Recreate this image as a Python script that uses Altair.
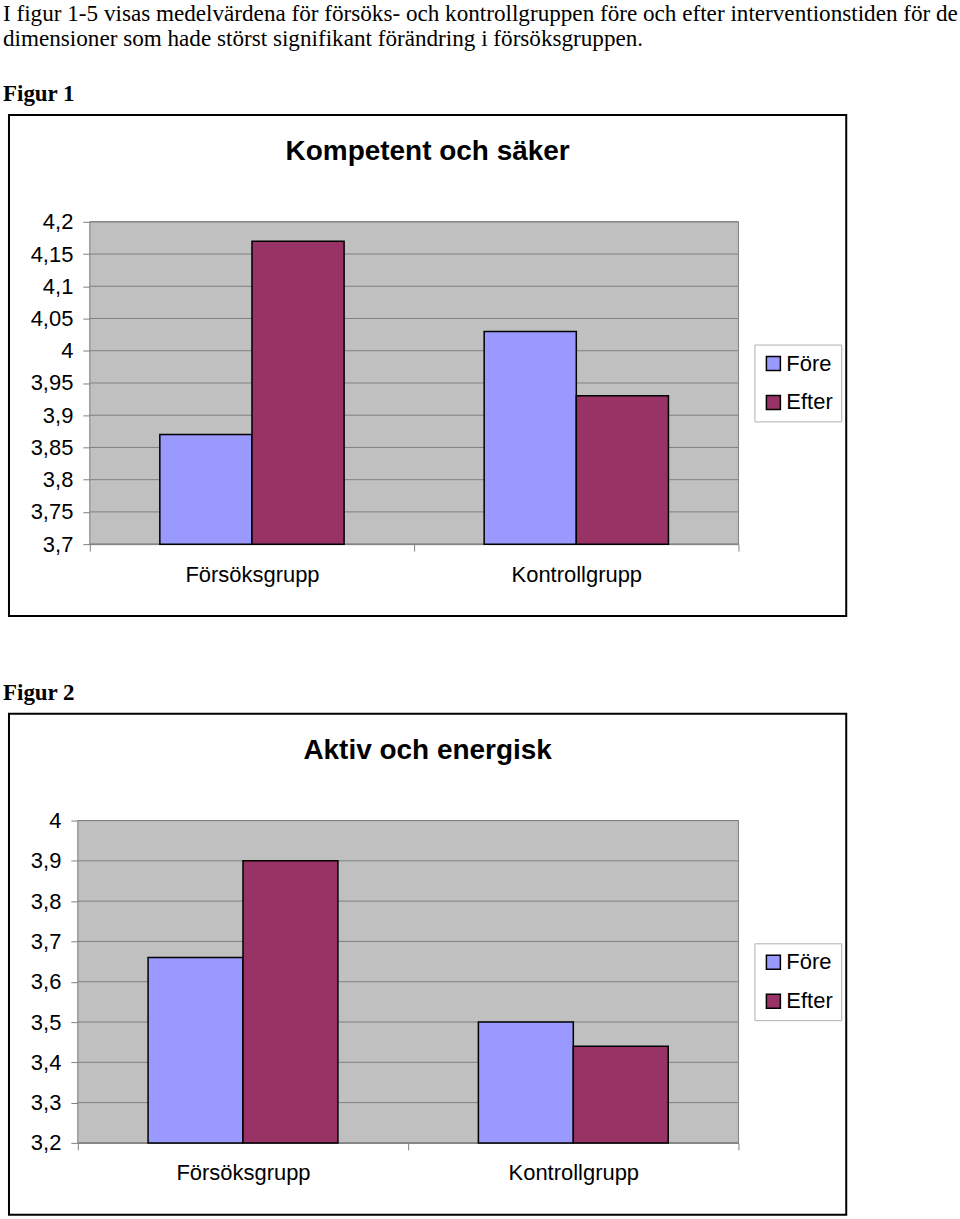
import altair as alt
import pandas as pd

# ---- data ----
groups = ["Försöksgrupp", "Kontrollgrupp"]
periods = ["Före", "Efter"]
fig1_title = "Kompetent och säker"
fig1_fore = [3.87, 4.03]
fig1_efter = [4.17, 3.93]
fig1_ticks = [3.7, 3.75, 3.8, 3.85, 3.9, 3.95, 4.0, 4.05, 4.1, 4.15, 4.2]

fig2_title = "Aktiv och energisk"
fig2_fore = [3.66, 3.50]
fig2_efter = [3.90, 3.44]
fig2_ticks = [3.2, 3.3, 3.4, 3.5, 3.6, 3.7, 3.8, 3.9, 4.0]

intro_1 = "I figur 1-5 visas medelvärdena för försöks- och kontrollgruppen före och efter interventionstiden för de"
intro_2 = "dimensioner som hade störst signifikant förändring i försöksgruppen."
label_1 = "Figur 1"
label_2 = "Figur 2"

colors = ["#9999FF", "#993366"]
SANS = "Liberation Sans"
SERIF = "Liberation Serif"
GRAY = "#808080"


def make_df(fore, efter):
    rows = []
    for g, f, e in zip(groups, fore, efter):
        rows.append({"group": g, "period": "Före", "value": f})
        rows.append({"group": g, "period": "Efter", "value": e})
    return pd.DataFrame(rows)


def text_layer(txt, x, y, size, font, weight="normal", align="left"):
    return alt.Chart(pd.DataFrame({"t": [txt]})).mark_text(
        align=align, baseline="alphabetic", font=font, fontSize=size,
        fontWeight=weight, color="black"
    ).encode(text="t:N", x=alt.value(x), y=alt.value(y))


def rect_layer(x, x2, y, y2, **kw):
    return alt.Chart(pd.DataFrame({"a": [0]})).mark_rect(**kw).encode(
        x=alt.value(x), x2=alt.value(x2), y=alt.value(y), y2=alt.value(y2)
    )


def figure(fore, efter, ticks, lo, hi, view_h, px0, px1, py0, py1,
           title, label, pad_outer, extra_text=None):
    # px0..px1 / py0..py1: plot rectangle inside this view
    df = make_df(fore, efter)
    yenc = alt.Y("value:Q", title=None,
                 scale=alt.Scale(domain=[lo, hi], zero=False, nice=False,
                                 range=[py1, py0]),
                 axis=alt.Axis(values=ticks, grid=False, offset=-px0,
                               labelExpr="replace(format(datum.value, '~g'), '.', ',')",
                               labelFontSize=22, labelFont=SANS, labelColor="black",
                               tickColor=GRAY, domainColor=GRAY,
                               tickSize=7, labelPadding=10))
    bars = alt.Chart(df).mark_bar(stroke="black", strokeWidth=1.5).encode(
        x=alt.X("group:N", sort=groups, title=None,
                scale=alt.Scale(paddingInner=0, paddingOuter=0, range=[px0, px1]),
                axis=alt.Axis(labelAngle=0, tickBand="extent", grid=False,
                              offset=-(view_h - py1),
                              labelFontSize=22, labelFont=SANS, labelColor="black",
                              tickColor=GRAY, domainColor=GRAY,
                              tickSize=7, labelPadding=13)),
        xOffset=alt.XOffset("period:N", sort=periods,
                            scale=alt.Scale(paddingInner=0, paddingOuter=pad_outer)),
        y=yenc,
        y2=alt.datum(lo),
        color=alt.Color("period:N", sort=periods,
                        scale=alt.Scale(domain=periods, range=colors),
                        legend=alt.Legend(orient="none", legendX=755, legendY=py0 + 123,
                                          title=None, symbolType="square",
                                          symbolSize=196, symbolStrokeColor="black",
                                          symbolStrokeWidth=1.5, labelFontSize=22,
                                          labelFont=SANS, labelColor="black",
                                          labelOffset=2, rowPadding=17, padding=8,
                                          strokeColor="#b0b0b0", fillColor="white",
                                          symbolOpacity=1)),
    )
    grid = alt.Chart(pd.DataFrame({"value": ticks})).mark_rule(
        color=GRAY, strokeWidth=1
    ).encode(y=yenc, x=alt.value(px0), x2=alt.value(px1))

    layers = [
        rect_layer(0, 960, 0, view_h, opacity=0),
        rect_layer(8, 847, py0 - 107, py0 + 395, fillOpacity=0,
                   stroke="black", strokeWidth=2),
        rect_layer(px0, px1, py0, py1, fill="#c0c0c0", stroke=GRAY, strokeWidth=1),
        grid,
        bars,
        text_layer(title, 427.5, py0 - 62, 28, SANS, weight="bold", align="center"),
        text_layer(label, 2, py0 - 121, 23, SERIF, weight="bold"),
    ]
    if extra_text:
        layers.append(text_layer(extra_text[0], 2, py0 - 201, 23.2, SERIF))
        layers.append(text_layer(extra_text[1], 2, py0 - 176, 23.2, SERIF))
    return alt.layer(*layers).properties(width=960, height=view_h)


fig1 = figure(fig1_fore, fig1_efter, fig1_ticks, 3.7, 4.2, 620,
              89, 739, 220, 543, fig1_title, label_1, 0.76,
              extra_text=(intro_1, intro_2))
fig2 = figure(fig2_fore, fig2_efter, fig2_ticks, 3.2, 4.0, 597,
              77, 739, 198, 521, fig2_title, label_2, 0.74)

chart = alt.vconcat(fig1, fig2, spacing=0).resolve_scale(
    x="independent", y="independent", color="independent", xOffset="independent"
).resolve_legend(color="independent").properties(
    padding=0, background="white"
).configure_view(stroke="transparent", fill="white")

chart.save("out.html", embed_options={"renderer": "svg", "actions": False})
